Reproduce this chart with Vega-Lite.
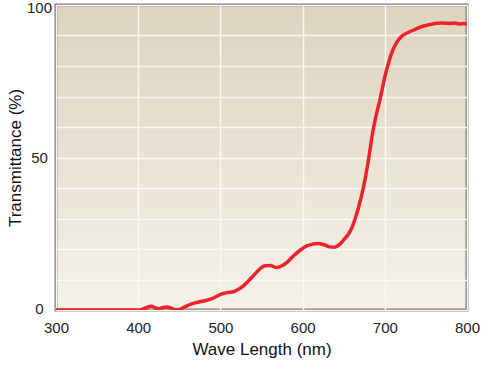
{
  "$schema": "https://vega.github.io/schema/vega-lite/v6.json",
  "autosize": "none",
  "padding": {"left": 56, "top": 5, "right": 14, "bottom": 56},
  "width": 411,
  "height": 305,
  "background": "#ffffff",
  "config": {
    "font": "Liberation Sans",
    "view": {
      "stroke": "#7b7b7b",
      "strokeWidth": 3,
      "fill": {
        "gradient": "linear",
        "x1": 0, "y1": 0, "x2": 0, "y2": 1,
        "stops": [
          {"offset": 0, "color": "#ddd4be"},
          {"offset": 1, "color": "#f4f1ea"}
        ]
      }
    },
    "axis": {
      "domain": false,
      "ticks": false,
      "tickSize": 0,
      "gridColor": "#fbf8f1",
      "gridWidth": 1.5,
      "gridOpacity": 1,
      "labelFont": "Liberation Sans",
      "labelFontSize": 15,
      "labelColor": "#222222",
      "titleFont": "Liberation Sans",
      "titleFontSize": 17,
      "titleFontWeight": "normal",
      "titleColor": "#111111"
    }
  },
  "data": {
    "values": [
      {"nm": 300, "t": 0}, {"nm": 320, "t": 0}, {"nm": 340, "t": 0}, {"nm": 360, "t": 0},
      {"nm": 380, "t": 0}, {"nm": 400, "t": 0}, {"nm": 405, "t": 0.2}, {"nm": 410, "t": 0.8},
      {"nm": 416, "t": 1.2}, {"nm": 420, "t": 0.8}, {"nm": 425, "t": 0.4}, {"nm": 430, "t": 0.8},
      {"nm": 435, "t": 1.0}, {"nm": 440, "t": 0.6}, {"nm": 445, "t": 0.1}, {"nm": 449, "t": 0.1},
      {"nm": 455, "t": 0.8}, {"nm": 465, "t": 2.0}, {"nm": 475, "t": 2.7}, {"nm": 483, "t": 3.2},
      {"nm": 492, "t": 4.0}, {"nm": 501, "t": 5.2}, {"nm": 508, "t": 5.7}, {"nm": 516, "t": 6.0},
      {"nm": 522, "t": 6.8}, {"nm": 528, "t": 7.9}, {"nm": 534, "t": 9.5}, {"nm": 540, "t": 11.2},
      {"nm": 547, "t": 13.2}, {"nm": 554, "t": 14.5}, {"nm": 561, "t": 14.6}, {"nm": 568, "t": 13.9},
      {"nm": 575, "t": 14.5}, {"nm": 581, "t": 15.6}, {"nm": 589, "t": 17.8}, {"nm": 597, "t": 19.6},
      {"nm": 605, "t": 21.0}, {"nm": 612, "t": 21.6}, {"nm": 619, "t": 21.8}, {"nm": 626, "t": 21.4},
      {"nm": 633, "t": 20.7}, {"nm": 639, "t": 20.6}, {"nm": 645, "t": 21.5}, {"nm": 651, "t": 23.3},
      {"nm": 656, "t": 25.0}, {"nm": 660, "t": 27.0}, {"nm": 664, "t": 30.0}, {"nm": 668, "t": 33.6},
      {"nm": 674, "t": 40.2}, {"nm": 680, "t": 49.0}, {"nm": 685, "t": 57.8}, {"nm": 690, "t": 64.4},
      {"nm": 694, "t": 68.8}, {"nm": 700, "t": 76.4}, {"nm": 704, "t": 80.5}, {"nm": 708, "t": 84.0},
      {"nm": 714, "t": 87.5}, {"nm": 720, "t": 89.6}, {"nm": 727, "t": 90.8}, {"nm": 735, "t": 91.8},
      {"nm": 741, "t": 92.5}, {"nm": 747, "t": 93.1}, {"nm": 755, "t": 93.6}, {"nm": 763, "t": 94.0},
      {"nm": 771, "t": 94.1}, {"nm": 779, "t": 94.0}, {"nm": 785, "t": 94.1}, {"nm": 791, "t": 93.8},
      {"nm": 796, "t": 93.9}, {"nm": 800, "t": 93.8}
    ]
  },
  "mark": {"type": "line", "color": "#ee2229", "strokeWidth": 3.5, "interpolate": "monotone", "clip": true},
  "encoding": {
    "x": {
      "field": "nm", "type": "quantitative",
      "scale": {"domain": [300, 800], "nice": false, "zero": false},
      "axis": {
        "title": "Wave Length (nm)",
        "values": [300, 400, 500, 600, 700, 800],
        "labelPadding": 10,
        "titlePadding": 6,
        "labelFlush": false
      }
    },
    "y": {
      "field": "t", "type": "quantitative",
      "scale": {"domain": [0, 100], "nice": false},
      "axis": {
        "title": "Transmittance (%)",
        "values": [0, 10, 20, 30, 40, 50, 60, 70, 80, 90, 100],
        "labelExpr": "datum.value % 50 === 0 ? datum.label : ''",
        "labelAlign": "center",
        "labelBaseline": "middle",
        "labelOffset": {"expr": "datum.value === 100 ? 2.5 : (datum.value === 0 ? -2 : 0)"},
        "labelPadding": 17,
        "titlePadding": 2,
        "labelFlush": false
      }
    }
  }
}
